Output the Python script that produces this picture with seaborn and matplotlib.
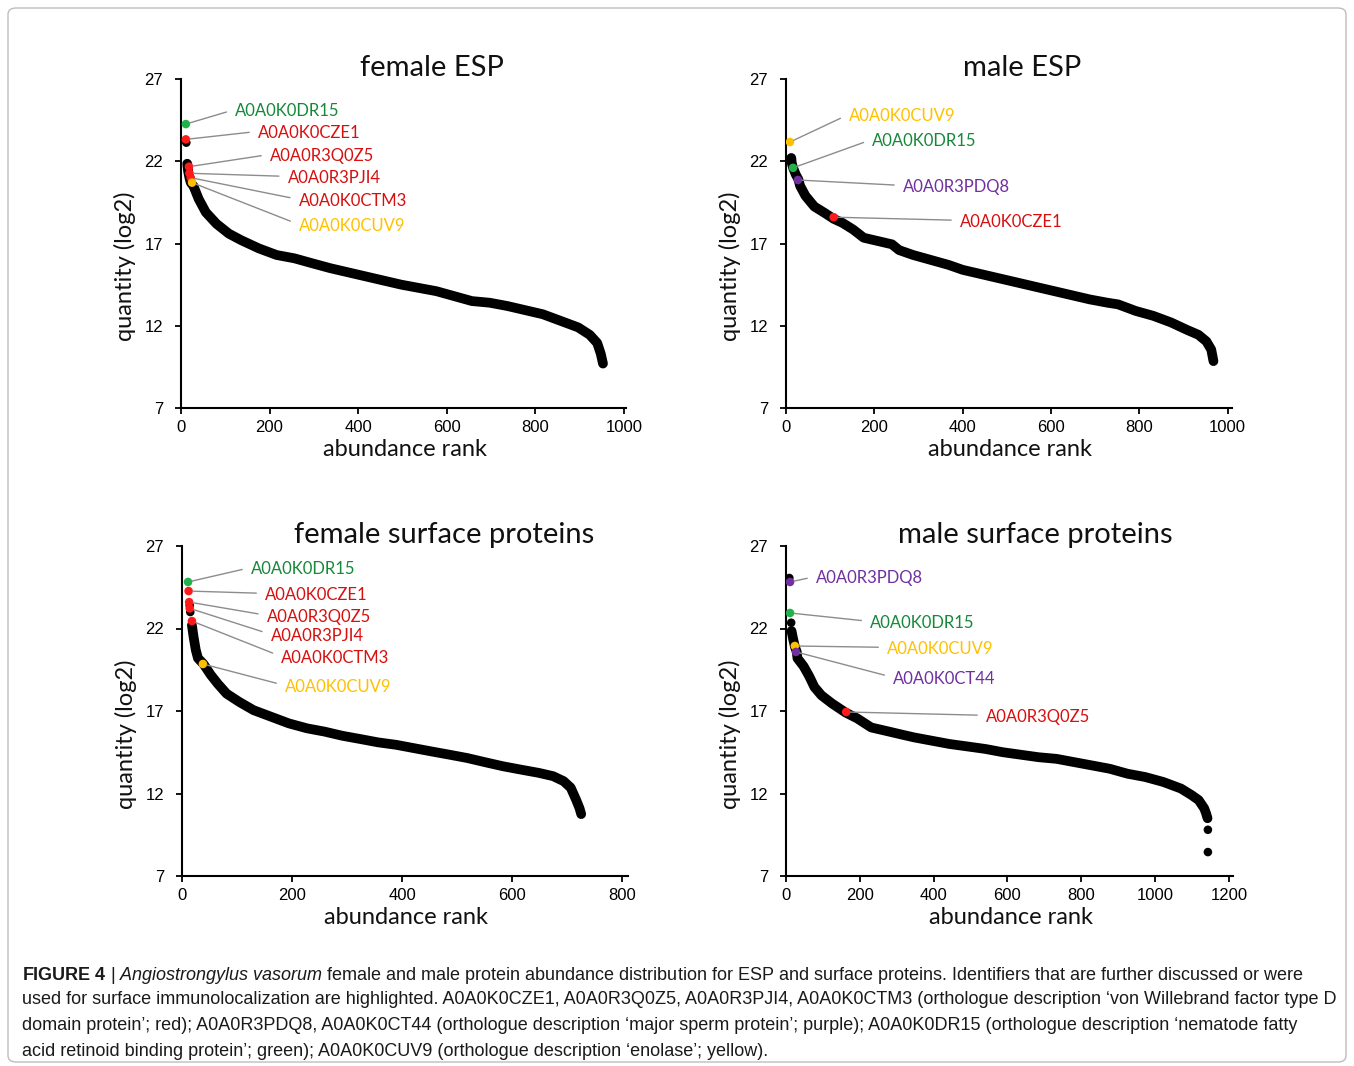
import matplotlib
matplotlib.use("Agg")
import matplotlib.pyplot as plt
from matplotlib.patches import FancyBboxPatch
import seaborn as sns

W, H = 1354, 1066

# ─── colours used for the highlighted identifiers ────────────────────────────
DOT = {"green": "#22b24c", "red": "#ff1a1a", "yellow": "#ffc000", "purple": "#7030a0"}
TXT = {"green": "#16883a", "red": "#d80f0f", "yellow": "#ffc000", "purple": "#7030a0"}

# ─── female ESP ──────────────────────────────────────────────────────────────
fesp_rank = [14, 16, 19, 22, 28, 40, 56, 80, 108, 136, 176, 216, 256, 296, 337, 377,
             417, 457, 497, 537, 577, 617, 657, 697, 737, 777, 817, 857, 897, 923,
             940, 948, 953]
fesp_qty = [21.85, 21.4, 21.0, 20.7, 20.5, 19.7, 18.9, 18.2, 17.6, 17.2, 16.7, 16.3,
            16.1, 15.8, 15.5, 15.25, 15.0, 14.75, 14.5, 14.3, 14.1, 13.8, 13.5, 13.4,
            13.2, 12.95, 12.7, 12.3, 11.9, 11.45, 10.95, 10.3, 9.7]
fesp_loose_rank = [12]
fesp_loose_qty = [23.13]
fesp_ids = ["A0A0K0DR15", "A0A0K0CZE1", "A0A0R3Q0Z5", "A0A0R3PJI4", "A0A0K0CTM3", "A0A0K0CUV9"]
fesp_col = ["green", "red", "red", "red", "red", "yellow"]
fesp_hrank = [11, 11, 18, 19, 22, 25]
fesp_hqty = [24.26, 23.33, 21.67, 21.27, 21.0, 20.7]

# ─── male ESP ────────────────────────────────────────────────────────────────
mesp_rank = [12, 13, 16, 22, 28, 32, 44, 64, 88, 108, 128, 152, 176, 208, 240, 256,
             288, 328, 368, 400, 448, 488, 528, 568, 608, 648, 688, 728, 752, 792,
             832, 872, 908, 934, 952, 963, 968]
mesp_qty = [22.2, 21.9, 21.6, 21.2, 20.9, 20.5, 19.9, 19.25, 18.85, 18.5, 18.25, 17.85,
            17.35, 17.15, 16.95, 16.6, 16.3, 16.0, 15.7, 15.4, 15.1, 14.85, 14.6, 14.35,
            14.1, 13.85, 13.6, 13.4, 13.3, 12.9, 12.6, 12.2, 11.75, 11.45, 11.05, 10.55,
            9.85]
mesp_loose_rank = []
mesp_loose_qty = []
mesp_ids = ["A0A0K0CUV9", "A0A0K0DR15", "A0A0R3PDQ8", "A0A0K0CZE1"]
mesp_col = ["yellow", "green", "purple", "red"]
mesp_hrank = [9, 16, 27, 108]
mesp_hqty = [23.17, 21.6, 20.86, 18.6]

# ─── female surface proteins ─────────────────────────────────────────────────
fsur_rank = [18, 21, 25, 29, 39, 52, 65, 81, 104, 130, 162, 194, 227, 259, 291, 324,
             356, 389, 421, 453, 486, 518, 550, 583, 615, 648, 674, 693, 706, 716,
             722, 725]
fsur_qty = [22.2, 21.5, 20.7, 20.2, 19.85, 19.2, 18.65, 18.05, 17.55, 17.05, 16.65,
            16.25, 15.95, 15.75, 15.5, 15.3, 15.1, 14.95, 14.75, 14.55, 14.35, 14.15,
            13.9, 13.65, 13.45, 13.25, 13.05, 12.75, 12.35, 11.6, 11.1, 10.75]
fsur_loose_rank = [14, 15]
fsur_loose_qty = [23.4, 23.0]
fsur_ids = ["A0A0K0DR15", "A0A0K0CZE1", "A0A0R3Q0Z5", "A0A0R3PJI4", "A0A0K0CTM3", "A0A0K0CUV9"]
fsur_col = ["green", "red", "red", "red", "red", "yellow"]
fsur_hrank = [11, 12, 13, 14, 18, 38]
fsur_hqty = [24.82, 24.27, 23.6, 23.22, 22.45, 19.85]

# ─── male surface proteins ───────────────────────────────────────────────────
msur_rank = [15, 19, 24, 29, 31, 48, 63, 77, 96, 125, 162, 193, 231, 270, 308, 347,
             395, 443, 492, 540, 588, 636, 684, 733, 781, 829, 877, 925, 973, 1022,
             1070, 1099, 1118, 1133, 1138, 1142]
msur_qty = [21.85, 21.4, 20.9, 20.6, 20.2, 19.7, 19.1, 18.45, 17.95, 17.45, 16.9, 16.55,
            16.0, 15.8, 15.6, 15.4, 15.2, 15.0, 14.85, 14.7, 14.5, 14.35, 14.2, 14.1,
            13.9, 13.7, 13.5, 13.2, 13.0, 12.7, 12.3, 11.9, 11.6, 11.1, 10.8, 10.5]
msur_loose_rank = [9, 14, 1143, 1143]
msur_loose_qty = [25.06, 22.35, 9.8, 8.45]
msur_ids = ["A0A0R3PDQ8", "A0A0K0DR15", "A0A0K0CUV9", "A0A0K0CT44", "A0A0R3Q0Z5"]
msur_col = ["purple", "green", "yellow", "purple", "red"]
msur_hrank = [11, 11, 24, 27, 163]
msur_hqty = [24.82, 22.94, 20.94, 20.58, 16.94]

# ─── layout: label anchors (data units), axes boxes (pixels) ─────────────────
fesp_lab = [(122, 25.05), (174, 23.72), (201, 22.32), (241, 20.98), (266, 19.58), (266, 18.06)]
mesp_lab = [(142, 24.75), (195, 23.23), (265, 20.43), (394, 18.31)]
fsur_lab = [(125, 25.6), (151, 24.03), (154, 22.7), (161, 21.55), (180, 20.21), (187, 18.45)]
msur_lab = [(81, 25.06), (228, 22.33), (274, 20.76), (290, 18.94), (542, 16.64)]

panels = [
    dict(title="female ESP", box=(181, 79, 445, 329), xlim=1005, xt=[0, 200, 400, 600, 800, 1000],
         title_xy=(432, 68), rank=fesp_rank, qty=fesp_qty, lr=fesp_loose_rank, lq=fesp_loose_qty,
         ids=fesp_ids, col=fesp_col, hr=fesp_hrank, hq=fesp_hqty, lab=fesp_lab),
    dict(title="male ESP", box=(786, 79, 446, 329), xlim=1010, xt=[0, 200, 400, 600, 800, 1000],
         title_xy=(1022, 68), rank=mesp_rank, qty=mesp_qty, lr=mesp_loose_rank, lq=mesp_loose_qty,
         ids=mesp_ids, col=mesp_col, hr=mesp_hrank, hq=mesp_hqty, lab=mesp_lab),
    dict(title="female surface proteins", box=(182, 546, 446, 330), xlim=810, xt=[0, 200, 400, 600, 800],
         title_xy=(444, 535), rank=fsur_rank, qty=fsur_qty, lr=fsur_loose_rank, lq=fsur_loose_qty,
         ids=fsur_ids, col=fsur_col, hr=fsur_hrank, hq=fsur_hqty, lab=fsur_lab),
    dict(title="male surface proteins", box=(786, 546, 447, 330), xlim=1211,
         xt=[0, 200, 400, 600, 800, 1000, 1200],
         title_xy=(1035, 535), rank=msur_rank, qty=msur_qty, lr=msur_loose_rank, lq=msur_loose_qty,
         ids=msur_ids, col=msur_col, hr=msur_hrank, hq=msur_hqty, lab=msur_lab),
]

sns.set_theme(style="ticks")
plt.rcParams["font.family"] = ["Lato", "DejaVu Sans"]
plt.rcParams["mathtext.fontset"] = "custom"
plt.rcParams["mathtext.rm"] = "Liberation Sans"
plt.rcParams["mathtext.it"] = "Liberation Sans:italic"
plt.rcParams["mathtext.bf"] = "Liberation Sans:bold"

fig = plt.figure(figsize=(W / 100, H / 100), dpi=100)
fig.patch.set_facecolor("white")

for p in panels:
    x0, ytop, w, h = p["box"]
    ax = fig.add_axes([x0 / W, 1 - (ytop + h) / H, w / W, h / H])

    sns.lineplot(x=p["rank"], y=p["qty"], ax=ax, color="black", lw=7,
                 estimator=None, sort=False, solid_capstyle="round",
                 solid_joinstyle="round", zorder=2)
    if p["lr"]:
        sns.scatterplot(x=p["lr"], y=p["lq"], ax=ax, color="black", s=38,
                        edgecolor="none", zorder=3)
    for name, c, r, q, (tx, ty) in zip(p["ids"], p["col"], p["hr"], p["hq"], p["lab"]):
        ax.scatter([r], [q], s=38, color=DOT[c], edgecolor="none", zorder=4)
        ax.annotate(name, xy=(r, q), xytext=(tx, ty), ha="left", va="center",
                    fontsize=12, color=TXT[c],
                    arrowprops=dict(arrowstyle="-", color="#8c8c8c", lw=1,
                                    shrinkA=4, shrinkB=3, relpos=(0, 0.6)),
                    zorder=5)

    ax.set_xlim(0, p["xlim"])
    ax.set_ylim(7, 27)
    ax.set_xticks(p["xt"])
    ax.set_yticks([7, 12, 17, 22, 27])
    ax.tick_params(axis="both", length=4, width=1.3, color="black", labelsize=12,
                   labelcolor="black", pad=5)
    ax.tick_params(axis="y", pad=9)
    for lbl in ax.get_xticklabels() + ax.get_yticklabels():
        lbl.set_fontfamily("Liberation Sans")
    for s in ["left", "bottom"]:
        ax.spines[s].set_linewidth(1.5)
        ax.spines[s].set_color("black")
    sns.despine(ax=ax)
    ax.set_xlabel("abundance rank", fontsize=17, color="#111111")
    ax.set_ylabel("quantity (log2)", fontsize=17, color="#111111")
    ax.xaxis.set_label_coords(0.503, -42 / h, transform=ax.transAxes)
    ax.yaxis.set_label_coords(-56 / w, 0.43, transform=ax.transAxes)
    ax.xaxis.label.set_va("center")
    ax.yaxis.label.set_va("center")

    tx, ty = p["title_xy"]
    fig.text(tx / W, 1 - ty / H, p["title"], ha="center", va="center",
             fontsize=21, color="#111111")

# ─── figure frame and caption ────────────────────────────────────────────────
fig.patches.append(FancyBboxPatch((8 / W, 4 / H), 1338 / W, 1054 / H,
                                  boxstyle="round,pad=0,rounding_size=0.006",
                                  transform=fig.transFigure, facecolor="none",
                                  edgecolor="#bdbdbd", lw=1.0))

caption = [
    r"$\mathbf{FIGURE\ 4}$ | $\mathit{Angiostrongylus\ vasorum}$ female and male protein abundance "
    "distribution for ESP and surface proteins. Identifiers that are further discussed or were",
    "used for surface immunolocalization are highlighted. A0A0K0CZE1, A0A0R3Q0Z5, A0A0R3PJI4, "
    "A0A0K0CTM3 (orthologue description \u2018von Willebrand factor type D",
    "domain protein\u2019; red); A0A0R3PDQ8, A0A0K0CT44 (orthologue description \u2018major sperm "
    "protein\u2019; purple); A0A0K0DR15 (orthologue description \u2018nematode fatty",
    "acid retinoid binding protein\u2019; green); A0A0K0CUV9 (orthologue description "
    "\u2018enolase\u2019; yellow).",
]
cap_y = [975, 1000, 1025, 1051]
for line, y in zip(caption, cap_y):
    fig.text(22 / W, 1 - y / H, line, ha="left", va="center", fontsize=13,
             family="Liberation Sans", color="#1a1a1a")

fig.savefig("out.png", dpi=100, facecolor="white")
plt.close(fig)
